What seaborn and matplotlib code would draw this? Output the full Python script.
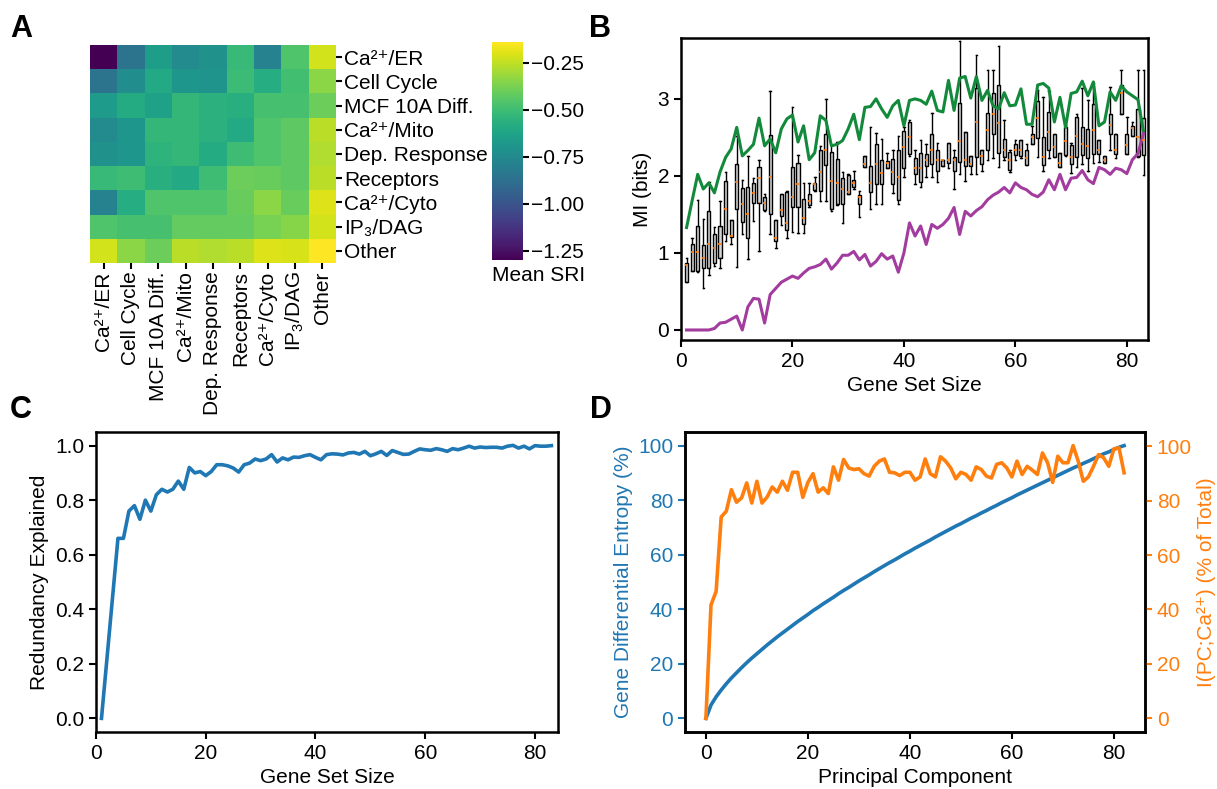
import numpy as np
import pandas as pd
import matplotlib
matplotlib.use("Agg")
import matplotlib.pyplot as plt
import seaborn as sns

plt.rcParams['font.family'] = ['Liberation Sans', 'DejaVu Sans']
plt.rcParams['font.size'] = 15
plt.rcParams['axes.linewidth'] = 1.8
plt.rcParams['xtick.major.width'] = 1.5
plt.rcParams['ytick.major.width'] = 1.5
plt.rcParams['xtick.major.size'] = 5
plt.rcParams['ytick.major.size'] = 5
plt.rcParams['mathtext.fontset'] = 'custom'
plt.rcParams['mathtext.rm'] = 'Liberation Sans'
plt.rcParams['mathtext.it'] = 'Liberation Sans'

# ---------------- Panel A data ----------------
row_labels = ["Ca²⁺/ER", "Cell Cycle", "MCF 10A Diff.", "Ca²⁺/Mito", "Dep. Response",
              "Receptors", "Ca²⁺/Cyto", "IP₃/DAG", "Other"]
col_labels = ["Ca²⁺/ER", "Cell Cycle", "MCF 10A Diff.", "Ca²⁺/Mito", "Dep. Response",
              "Receptors", "Ca²⁺/Cyto", "IP$_3$/DAG", "Other"]
sri_er     = [-1.30, -0.86, -0.66, -0.75, -0.72, -0.52, -0.79, -0.46, -0.22]
sri_cycle  = [-0.86, -0.73, -0.60, -0.69, -0.70, -0.51, -0.58, -0.49, -0.34]
sri_mcf    = [-0.67, -0.59, -0.64, -0.53, -0.56, -0.57, -0.48, -0.48, -0.40]
sri_mito   = [-0.75, -0.69, -0.53, -0.53, -0.56, -0.60, -0.46, -0.43, -0.26]
sri_dep    = [-0.72, -0.69, -0.55, -0.53, -0.59, -0.50, -0.46, -0.43, -0.28]
sri_rec    = [-0.52, -0.50, -0.57, -0.60, -0.50, -0.40, -0.41, -0.43, -0.26]
sri_cyto   = [-0.79, -0.58, -0.46, -0.46, -0.46, -0.41, -0.34, -0.41, -0.20]
sri_ip3    = [-0.46, -0.48, -0.48, -0.42, -0.42, -0.42, -0.38, -0.35, -0.22]
sri_other  = [-0.22, -0.34, -0.40, -0.26, -0.28, -0.26, -0.20, -0.21, -0.14]

# ---------------- Panel B data ----------------
set_sizes = list(range(1, 84))
box_q1 = [0.62, 0.77, 0.76, 0.81, 0.80, 0.87, 0.93, 1.24, 1.21, 1.57,
          1.40, 1.20, 1.65, 1.65, 1.56, 1.51, 1.15, 1.48, 1.30, 1.59,
          1.59, 1.37, 1.62, 1.82, 1.80, 2.14, 1.57, 1.64, 1.64, 1.77,
          1.86, 1.64, 2.11, 1.79, 1.90, 1.89, 2.10, 1.89, 1.69, 2.10,
          2.29, 2.03, 1.92, 2.13, 2.16, 2.07, 2.13, 2.17, 2.07, 2.18,
          2.13, 2.13, 2.25, 2.15, 2.33, 2.54, 2.30, 2.24, 2.08, 2.27,
          2.26, 2.14, 2.41, 2.49, 2.14, 2.34, 2.25, 2.11, 2.27, 2.16,
          2.25, 2.27, 2.23, 2.28, 2.28, 2.17, 2.55, 2.28, 2.81, 2.29,
          2.52, 2.26, 2.27]
box_med = [0.84, 1.01, 1.01, 0.93, 1.12, 1.06, 1.11, 1.57, 1.22, 1.92,
           1.63, 1.50, 1.78, 1.97, 1.65, 1.98, 1.20, 1.56, 1.39, 1.73,
           1.89, 1.46, 1.68, 1.89, 2.05, 2.34, 1.93, 1.91, 1.83, 1.79,
           1.91, 1.72, 2.16, 1.91, 2.15, 2.04, 2.17, 2.05, 1.99, 2.37,
           2.51, 2.10, 2.10, 2.20, 2.34, 2.21, 2.20, 2.21, 2.21, 2.45,
           2.21, 2.15, 2.70, 2.26, 2.59, 2.81, 2.69, 2.33, 2.20, 2.34,
           2.33, 2.23, 2.51, 2.75, 2.24, 2.57, 2.37, 2.17, 2.45, 2.25,
           2.52, 2.42, 2.39, 2.59, 2.34, 2.20, 2.66, 2.33, 3.07, 2.40,
           2.62, 2.51, 2.47]
box_q3 = [0.87, 1.11, 1.35, 1.10, 1.54, 1.25, 1.35, 1.93, 1.43, 2.16,
          1.84, 1.85, 1.91, 2.11, 1.72, 2.53, 1.43, 1.76, 1.79, 2.11,
          2.17, 1.70, 1.76, 1.91, 2.33, 2.55, 2.31, 2.22, 1.97, 2.01,
          1.95, 1.75, 2.26, 2.13, 2.42, 2.20, 2.19, 2.22, 2.33, 2.58,
          2.70, 2.23, 2.30, 2.29, 2.55, 2.34, 2.21, 2.43, 2.24, 2.94,
          2.57, 2.26, 3.14, 2.33, 2.82, 3.07, 3.18, 2.48, 2.31, 2.42,
          2.47, 2.33, 2.54, 2.97, 2.50, 2.83, 2.55, 2.30, 2.63, 2.40,
          2.76, 2.64, 2.61, 2.93, 2.46, 2.26, 2.81, 2.54, 3.18, 2.55,
          2.65, 2.87, 2.75]
box_lo = [0.62, 0.77, 0.75, 0.54, 0.72, 0.83, 0.81, 1.16, 1.12, 0.82,
          1.24, 0.92, 1.41, 1.03, 1.54, 1.24, 1.07, 1.36, 1.19, 1.27,
          1.26, 1.26, 1.60, 1.80, 1.68, 1.68, 1.55, 1.62, 1.39, 1.77,
          1.83, 1.47, 2.11, 1.57, 1.64, 1.64, 2.10, 1.78, 1.64, 1.99,
          2.26, 1.90, 1.85, 1.99, 1.99, 1.92, 2.13, 2.10, 1.83, 2.03,
          1.93, 2.02, 2.03, 2.07, 2.21, 2.23, 2.11, 2.21, 2.05, 2.21,
          2.23, 2.14, 2.41, 2.24, 2.07, 2.23, 2.24, 2.11, 2.26, 2.04,
          2.11, 2.16, 2.07, 2.17, 2.18, 2.17, 2.33, 2.23, 2.81, 2.29,
          2.52, 2.24, 2.01]
box_hi = [0.94, 1.19, 1.69, 1.44, 1.92, 1.34, 1.68, 2.05, 1.43, 2.52,
          1.95, 2.26, 1.97, 2.21, 1.76, 3.10, 1.43, 1.76, 1.80, 2.90,
          2.27, 1.91, 1.91, 1.98, 2.39, 3.00, 2.40, 2.44, 2.05, 2.03,
          2.07, 1.80, 2.26, 2.64, 2.56, 2.48, 2.30, 2.34, 2.52, 2.64,
          2.73, 2.34, 2.47, 2.41, 2.82, 2.43, 2.21, 2.43, 2.33, 3.75,
          2.57, 2.26, 3.57, 2.33, 3.38, 3.38, 3.68, 2.73, 2.34, 2.47,
          2.47, 2.41, 2.65, 3.12, 3.03, 3.10, 2.55, 2.30, 2.66, 2.43,
          2.81, 3.14, 2.99, 3.20, 2.46, 2.26, 3.15, 2.54, 3.38, 2.77,
          2.70, 3.37, 3.38]
mi_best = [1.33, 1.68, 2.02, 1.83, 1.91, 1.78, 2.05, 2.24, 2.35, 2.63,
           2.26, 2.33, 2.41, 2.75, 2.39, 2.48, 2.30, 2.61, 2.74, 2.79,
           2.44, 2.65, 2.21, 2.30, 2.78, 2.72, 2.39, 2.41, 2.46, 2.61,
           2.80, 2.47, 2.89, 2.90, 3.00, 2.87, 2.76, 2.91, 2.98, 2.65,
           2.98, 3.00, 2.98, 2.93, 3.10, 2.85, 2.83, 3.24, 2.85, 3.27,
           3.29, 3.01, 3.29, 2.98, 3.11, 2.91, 2.87, 3.08, 2.91, 2.92,
           3.13, 2.67, 2.67, 3.18, 3.20, 3.14, 2.70, 3.02, 2.63, 3.07,
           3.09, 3.23, 3.04, 3.22, 2.65, 2.70, 3.09, 2.98, 3.17, 3.09,
           3.04, 2.99, 2.57]
mi_worst = [0.00, 0.00, 0.00, 0.00, 0.00, 0.02, 0.09, 0.10, 0.14, 0.18,
            0.00, 0.30, 0.41, 0.40, 0.09, 0.46, 0.54, 0.62, 0.66, 0.70,
            0.67, 0.74, 0.80, 0.82, 0.85, 0.92, 0.79, 0.87, 0.97, 0.97,
            1.02, 0.91, 0.98, 0.83, 0.89, 0.99, 0.92, 0.96, 0.75, 1.00,
            1.39, 1.22, 1.35, 1.11, 1.37, 1.32, 1.37, 1.45, 1.59, 1.24,
            1.54, 1.48, 1.55, 1.60, 1.69, 1.75, 1.79, 1.85, 1.78, 1.91,
            1.85, 1.82, 1.76, 1.73, 1.79, 1.95, 1.82, 2.02, 1.82, 1.97,
            1.98, 2.07, 1.95, 1.90, 2.11, 2.08, 2.02, 2.10, 2.08, 2.03,
            2.21, 2.29, 2.55]

# ---------------- Panel C data ----------------
redundancy = [0.00, 0.22, 0.44, 0.66, 0.66, 0.76, 0.78, 0.73, 0.80, 0.76,
              0.82, 0.84, 0.83, 0.84, 0.87, 0.84, 0.92, 0.90, 0.905, 0.89,
              0.905, 0.93, 0.93, 0.926, 0.918, 0.903, 0.93, 0.936, 0.951, 0.945,
              0.951, 0.967, 0.94, 0.955, 0.948, 0.958, 0.957, 0.963, 0.967, 0.957,
              0.948, 0.967, 0.97, 0.969, 0.966, 0.973, 0.975, 0.969, 0.979, 0.963,
              0.97, 0.979, 0.964, 0.982, 0.975, 0.968, 0.969, 0.979, 0.988, 0.985,
              0.983, 0.989, 0.985, 0.979, 0.989, 0.985, 0.991, 0.998, 0.991, 0.995,
              0.993, 0.994, 0.994, 0.991, 0.998, 1.001, 0.991, 0.998, 0.988, 1.0,
              0.998, 0.998, 1.0]

# ---------------- Panel D data ----------------
components = list(range(0, 83))
entropy_pct = [0.0, 4.9, 7.9, 10.4, 12.7, 14.8, 16.7, 18.6, 20.4, 22.1,
               23.7, 25.3, 26.9, 28.4, 29.9, 31.3, 32.7, 34.1, 35.5, 36.8,
               38.1, 39.5, 40.7, 42.0, 43.2, 44.4, 45.7, 46.9, 48.0, 49.2,
               50.4, 51.5, 52.6, 53.8, 54.9, 56.0, 57.1, 58.1, 59.2, 60.3,
               61.3, 62.4, 63.4, 64.4, 65.4, 66.5, 67.5, 68.5, 69.5, 70.5,
               71.4, 72.4, 73.4, 74.3, 75.3, 76.2, 77.2, 78.1, 79.1, 80.0,
               80.9, 81.9, 82.8, 83.7, 84.6, 85.5, 86.4, 87.3, 88.2, 89.1,
               90.0, 90.9, 91.8, 92.6, 93.5, 94.3, 95.2, 96.1, 97.0, 97.7,
               98.6, 99.4, 100.0]
mi_pc_pct = [0.0, 41.7, 46.6, 74.0, 76.1, 84.0, 79.4, 81.0, 86.5, 79.1,
             87.1, 79.1, 81.3, 85.0, 83.1, 87.1, 83.8, 90.4, 90.4, 81.2,
             86.7, 89.9, 83.1, 84.7, 82.6, 92.4, 87.5, 95.1, 92.0, 91.4,
             91.7, 89.9, 89.0, 92.6, 94.5, 95.3, 90.4, 90.2, 89.2, 90.4,
             90.4, 87.5, 88.7, 95.3, 89.9, 88.7, 96.1, 94.5, 92.0, 88.0,
             90.4, 89.6, 87.5, 92.4, 91.4, 89.0, 88.3, 93.3, 93.9, 92.0,
             88.7, 94.5, 89.6, 92.6, 91.2, 89.6, 97.5, 93.9, 86.7, 96.3,
             93.9, 93.9, 100.2, 94.5, 87.1, 88.7, 92.6, 96.9, 95.7, 92.6,
             99.0, 99.4, 90.2]

BLUE = '#1f77b4'
ORANGE = '#ff7f0e'
GREEN = '#13893b'
PURPLE = '#a23c9e'

W, H = 1217, 789
fig = plt.figure(figsize=(W / 100, H / 100), dpi=100)

def add_ax(x0, y0, x1, y1):
    return fig.add_axes([x0 / W, 1 - y1 / H, (x1 - x0) / W, (y1 - y0) / H])

# ---------------- Panel A ----------------
axA = add_ax(90, 45, 336, 263)
cax = add_ax(492, 42, 523, 260)
sri = pd.DataFrame([sri_er, sri_cycle, sri_mcf, sri_mito, sri_dep, sri_rec,
                    sri_cyto, sri_ip3, sri_other], index=row_labels, columns=col_labels)
sns.heatmap(sri, cmap='viridis', ax=axA, cbar_ax=cax,
            cbar_kws={'ticks': [-1.25, -1.0, -0.75, -0.5, -0.25]})
axA.yaxis.tick_right()
axA.set_yticklabels(row_labels, rotation=0)
axA.set_xticklabels(col_labels, rotation=90)
axA.tick_params(length=4, width=1.5, pad=2)
cax.tick_params(length=4, width=1.5, pad=2)
cax.set_xlabel('Mean SRI', loc='left', labelpad=4)

# ---------------- Panel B ----------------
axB = add_ax(681, 38, 1148, 340)
stats = [dict(q1=a, med=m, q3=b, whislo=lo, whishi=hi, fliers=[])
         for a, m, b, lo, hi in zip(box_q1, box_med, box_q3, box_lo, box_hi)]
axB.bxp(stats, positions=set_sizes, widths=0.55, patch_artist=True, showfliers=False,
        manage_ticks=False,
        boxprops=dict(facecolor='#d3d3d3', edgecolor='black', linewidth=1.0),
        medianprops=dict(color=ORANGE, linewidth=1.2),
        whiskerprops=dict(color='black', linewidth=1.0),
        capprops=dict(color='black', linewidth=1.0))
sns.lineplot(x=set_sizes, y=mi_best, ax=axB, color=GREEN, linewidth=2.2)
sns.lineplot(x=set_sizes, y=mi_worst, ax=axB, color=PURPLE, linewidth=2.2)
axB.set_xlim(0, 83.8)
axB.set_ylim(-0.13, 3.79)
axB.set_xticks([0, 20, 40, 60, 80])
axB.set_yticks([0, 1, 2, 3])
axB.set_xlabel('Gene Set Size')
axB.set_ylabel('MI (bits)')

# ---------------- Panel C ----------------
axC = add_ax(96, 432, 558, 732)
sns.lineplot(x=set_sizes, y=redundancy, ax=axC, color=BLUE, linewidth=2.6)
axC.set_xlim(0, 84.2)
axC.set_ylim(-0.05, 1.05)
axC.set_xticks([0, 20, 40, 60, 80])
axC.set_yticks([0.0, 0.2, 0.4, 0.6, 0.8, 1.0])
axC.set_xlabel('Gene Set Size')
axC.set_ylabel('Redundancy Explained')

# ---------------- Panel D ----------------
axD = add_ax(685, 432, 1145, 732)
sns.lineplot(x=components, y=entropy_pct, ax=axD, color=BLUE, linewidth=2.6)
axD.set_xlim(-4.1, 86.1)
axD.set_ylim(-5, 105)
axD.set_xticks([0, 20, 40, 60, 80])
axD.set_yticks([0, 20, 40, 60, 80, 100])
axD.set_xlabel('Principal Component')
axD.set_ylabel('Gene Differential Entropy (%)', color=BLUE)
axD.tick_params(axis='y', colors=BLUE)
axD2 = axD.twinx()
sns.lineplot(x=components, y=mi_pc_pct, ax=axD2, color=ORANGE, linewidth=2.6)
axD2.set_ylim(-5.01, 105.2)
axD2.set_yticks([0, 20, 40, 60, 80, 100])
axD2.set_ylabel('I(PC;Ca²⁺) (% of Total)', color=ORANGE)
axD2.tick_params(axis='y', colors=ORANGE)
for sp in axD2.spines.values():
    sp.set_linewidth(1.8)

# ---------------- Panel letters ----------------
for letter, x, y in [('A', 10, 37), ('B', 589, 37), ('C', 10, 418), ('D', 590, 418)]:
    fig.text(x / W, 1 - y / H, letter, fontsize=22, fontweight='bold', va='baseline', ha='left')

fig.savefig('out.png', dpi=100)
